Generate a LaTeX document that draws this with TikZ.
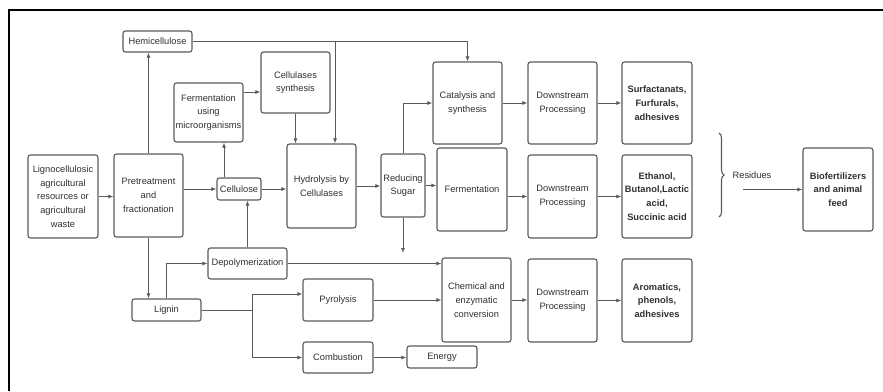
\documentclass[tikz,border=0pt]{standalone}
\usepackage{fontspec}
\setmainfont{Liberation Sans}
\usetikzlibrary{arrows.meta,decorations.pathreplacing}
\definecolor{boxgray}{HTML}{5A5A5A}
\definecolor{textgray}{HTML}{303030}

\begin{document}
\begin{tikzpicture}[
        x=1pt, y=-1pt,
        box/.style={draw=boxgray, line width=1.1pt, rounded corners=2.5pt,
            align=center, inner sep=1pt, text=textgray,
            font=\fontsize{9.3}{13.8}\selectfont},
        prod/.style={box, font=\fontsize{9.3}{13.8}\selectfont\bfseries},
        flow/.style={draw=boxgray, line width=1pt,
            -{Latex[length=5pt,width=4pt]}}
    ]
    \useasboundingbox (0,0) rectangle (883,391);
    \draw[line width=1.6pt] (9,391) -- (9,10) -- (883,10);

    \node[box, minimum width=70pt, minimum height=83pt] (ligno) at (63,196.5)
        {Lignocellulosic\\agricultural\\resources or\\agricultural\\waste};
    \node[box, minimum width=69pt, minimum height=83pt] (pretreat) at (148.5,195.5)
        {Pretreatment\\and\\fractionation};
    \node[box, minimum width=69pt, minimum height=21pt] (hemi) at (157.5,41.5) {Hemicellulose};
    \node[box, minimum width=69pt, minimum height=59pt] (fermmicro) at (208.5,112.5)
        {Fermentation\\using\\microorganisms};
    \node[box, minimum width=69pt, minimum height=61pt] (cellsyn) at (295.5,82.5)
        {Cellulases\\synthesis};
    \node[box, minimum width=44pt, minimum height=22pt] (cellulose) at (239,189) {Cellulose};
    \node[box, minimum width=69pt, minimum height=84pt] (hydro) at (321.5,186)
        {Hydrolysis by\\Cellulases};
    \node[box, minimum width=44pt, minimum height=63pt] (sugar) at (403,185.5)
        {Reducing\\Sugar};
    \node[box, minimum width=79pt, minimum height=31pt] (depol) at (247.5,263.5) {Depolymerization};
    \node[box, minimum width=69pt, minimum height=22pt] (lignin) at (166.5,310) {Lignin};
    \node[box, minimum width=70pt, minimum height=42pt] (pyro) at (338,300) {Pyrolysis};
    \node[box, minimum width=70pt, minimum height=31pt] (comb) at (338,357.5) {Combustion};
    \node[box, minimum width=70pt, minimum height=22pt] (energy) at (442,357) {Energy};

    \node[box, minimum width=69pt, minimum height=82pt] (catal) at (467.5,103)
        {Catalysis and\\synthesis};
    \node[box, minimum width=70pt, minimum height=83pt] (ferm) at (472,189.5) {Fermentation};
    \node[box, minimum width=69pt, minimum height=84pt] (chem) at (476.5,300)
        {Chemical and\\enzymatic\\conversion};

    \node[box, minimum width=69pt, minimum height=82pt] (down1) at (562.5,103) {Downstream\\Processing};
    \node[box, minimum width=69pt, minimum height=83pt] (down2) at (562.5,196.5) {Downstream\\Processing};
    \node[box, minimum width=69pt, minimum height=83pt] (down3) at (562.5,300.5) {Downstream\\Processing};

    \node[prod, minimum width=70pt, minimum height=82pt] (surf) at (657,103)
        {Surfactanats,\\Furfurals,\\adhesives};
    \node[prod, minimum width=70pt, minimum height=83pt] (ethanol) at (657,196.5)
        {Ethanol,\\Butanol,Lactic\\acid,\\Succinic acid};
    \node[prod, minimum width=70pt, minimum height=83pt] (arom) at (657,300.5)
        {Aromatics,\\phenols,\\adhesives};
    \node[prod, minimum width=70pt, minimum height=83pt] (bio) at (838,189.5)
        {Biofertilizers\\and animal\\feed};

    \node[text=textgray, font=\fontsize{9.3}{13.8}\selectfont, inner sep=0pt] (resid) at (752,175) {Residues};
    \draw[boxgray, line width=1.1pt, decorate, decoration={brace, amplitude=5pt}] (719,133) -- (719,217);

    \coordinate (lj) at (252,310);
    \coordinate (sugarend) at (403,253);
    \coordinate (residstart) at (743,189.5);

    \draw[flow] (ligno.east) -- (ligno.east -| pretreat.west);
    \draw[flow] (pretreat.north) -- (pretreat.north |- hemi.south);
    \draw[flow] (pretreat.south) -- (pretreat.south |- lignin.north);
    \draw[flow] (cellulose.west -| pretreat.east) -- (cellulose.west);
    \draw[flow] ([xshift=-15pt]cellulose.north) -- ([xshift=-15pt]cellulose.north |- fermmicro.south);
    \draw[flow] ([yshift=20.5pt]fermmicro.east) coordinate (fm) -- (fm -| cellsyn.west);
    \draw[flow] (cellsyn.south) -- (cellsyn.south |- hydro.north);
    \draw[flow] (hemi.east) -| (catal.north);
    \draw[flow] ([xshift=13.5pt]hydro.north |- hemi.east) -- ([xshift=13.5pt]hydro.north);
    \draw[flow] (cellulose.east) -- (cellulose.east -| hydro.west);
    \draw[flow] (hydro.east) -- (hydro.east -| sugar.west);
    \draw[flow] (sugar.north) |- (catal.west);
    \draw[flow] (sugar.east) -- (sugar.east -| ferm.west);
    \draw[flow] (sugar.south) -- (sugarend);
    \draw[flow] (depol.north) -- (depol.north |- cellulose.south);
    \draw[flow] (depol.east) -- (depol.east -| chem.west);
    \draw[flow] (lignin.north) |- (depol.west);
    \draw[boxgray, line width=1pt] (lignin.east) -- (lj);
    \draw[flow] (lj) |- ([yshift=6pt]pyro.west);
    \draw[flow] (lj) |- (comb.west);
    \draw[flow] (pyro.east) -- (pyro.east -| chem.west);
    \draw[flow] (comb.east) -- (comb.east -| energy.west);
    \draw[flow] (catal.east) -- (catal.east -| down1.west);
    \draw[flow] (down2.west -| ferm.east) -- (down2.west);
    \draw[flow] (chem.east) -- (chem.east -| down3.west);
    \draw[flow] (down1.east) -- (down1.east -| surf.west);
    \draw[flow] (down2.east) -- (down2.east -| ethanol.west);
    \draw[flow] (down3.east) -- (down3.east -| arom.west);
    \draw[flow] (residstart) -- (bio.west);
\end{tikzpicture}
\end{document}
